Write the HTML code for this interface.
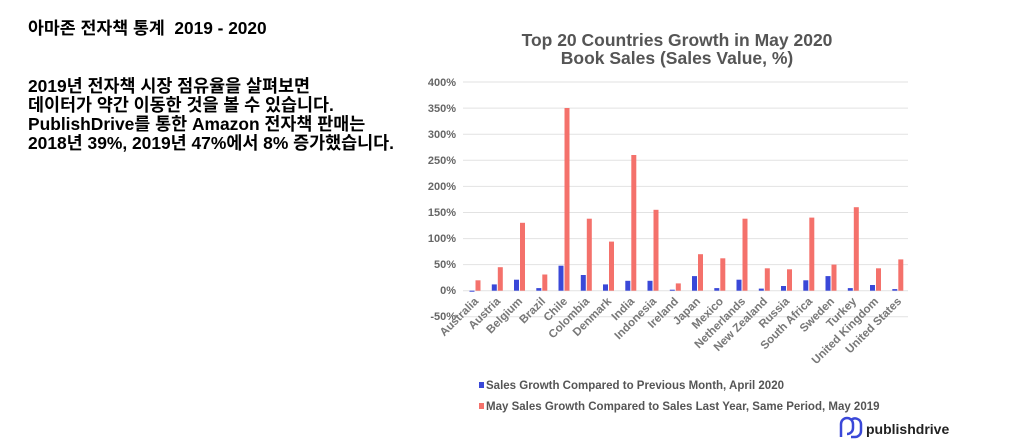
<!DOCTYPE html>
<html><head><meta charset="utf-8"><style>
body{margin:0;background:#fff;width:1024px;height:443px;overflow:hidden;position:relative;font-family:"Liberation Sans","Noto Sans CJK KR",sans-serif}
.t{position:absolute;left:28px;color:#000;font-weight:600;white-space:nowrap}
</style></head><body>
<div class="t" style="top:17px;font-size:17.3px;line-height:22px">아마존 전자책 통계&nbsp; 2019 - 2020</div>
<div class="t" style="top:77px;font-size:17.4px;line-height:19px">2019년 전자책 시장 점유율을 살펴보면<br>데이터가 약간 이동한 것을 볼 수 있습니다.<br>PublishDrive를 통한 Amazon 전자책 판매는<br>2018년 39%, 2019년 47%에서 8% 증가했습니다.</div>
<svg width="1024" height="443" style="position:absolute;left:0;top:0" font-family="Liberation Sans, sans-serif">
<g fill="#555" font-weight="bold" font-size="17.5" text-anchor="middle">
<text x="677" y="46">Top 20 Countries Growth in May 2020</text>
<text x="677" y="64">Book Sales (Sales Value, %)</text>
</g>
<g stroke="#e2e2e2" stroke-width="1">
<line x1="463" x2="908" y1="82" y2="82"/><line x1="463" x2="908" y1="108.1" y2="108.1"/><line x1="463" x2="908" y1="134.2" y2="134.2"/><line x1="463" x2="908" y1="160.3" y2="160.3"/><line x1="463" x2="908" y1="186.4" y2="186.4"/><line x1="463" x2="908" y1="212.5" y2="212.5"/><line x1="463" x2="908" y1="238.6" y2="238.6"/><line x1="463" x2="908" y1="264.6" y2="264.6"/><line x1="463" x2="908" y1="290.7" y2="290.7"/><line x1="463" x2="908" y1="316.8" y2="316.8"/>
</g>
<g fill="#666" font-size="11" font-weight="bold" text-anchor="end">
<text x="456" y="86">400%</text><text x="456" y="112">350%</text><text x="456" y="138">300%</text><text x="456" y="164">250%</text><text x="456" y="190">200%</text><text x="456" y="216">150%</text><text x="456" y="242">100%</text><text x="456" y="268">50%</text><text x="456" y="294">0%</text><text x="456" y="320">-50%</text>
</g>
<g fill="#f4716b">
<rect x="475.5" y="280.3" width="5" height="10.4"/><rect x="497.8" y="267.2" width="5" height="23.5"/><rect x="520" y="222.8" width="5" height="67.9"/><rect x="542.3" y="274.5" width="5" height="16.2"/><rect x="564.5" y="108" width="5" height="182.7"/><rect x="586.8" y="218.7" width="5" height="72"/><rect x="609" y="241.6" width="5" height="49.1"/><rect x="631.3" y="155" width="5" height="135.7"/><rect x="653.5" y="209.8" width="5" height="80.9"/><rect x="675.8" y="283.4" width="5" height="7.3"/><rect x="698" y="254.2" width="5" height="36.5"/><rect x="720.3" y="258.3" width="5" height="32.4"/><rect x="742.5" y="218.7" width="5" height="72"/><rect x="764.8" y="268.3" width="5" height="22.4"/><rect x="787" y="269.3" width="5" height="21.4"/><rect x="809.3" y="217.6" width="5" height="73.1"/><rect x="831.5" y="264.6" width="5" height="26.1"/><rect x="853.8" y="207.2" width="5" height="83.5"/><rect x="876" y="268.3" width="5" height="22.4"/><rect x="898.3" y="259.4" width="5" height="31.3"/>
</g>
<g fill="#3a48d8">
<rect x="469.5" y="290.7" width="5" height="1"/><rect x="491.8" y="284.4" width="5" height="6.3"/><rect x="514" y="279.7" width="5" height="11"/><rect x="536.3" y="288.1" width="5" height="2.6"/><rect x="558.5" y="265.7" width="5" height="25"/><rect x="580.8" y="275" width="5" height="15.7"/><rect x="603" y="284.4" width="5" height="6.3"/><rect x="625.3" y="280.8" width="5" height="9.9"/><rect x="647.5" y="280.8" width="5" height="9.9"/><rect x="669.8" y="289.7" width="5" height="1"/><rect x="692" y="276.1" width="5" height="14.6"/><rect x="714.3" y="288.1" width="5" height="2.6"/><rect x="736.5" y="279.7" width="5" height="11"/><rect x="758.8" y="288.6" width="5" height="2.1"/><rect x="781" y="286" width="5" height="4.7"/><rect x="803.3" y="280.3" width="5" height="10.4"/><rect x="825.5" y="276.1" width="5" height="14.6"/><rect x="847.8" y="288.1" width="5" height="2.6"/><rect x="870" y="285" width="5" height="5.7"/><rect x="892.3" y="289.1" width="5" height="1.6"/>
</g>
<g fill="#777" font-size="11.5" font-weight="bold" text-anchor="end">
<text transform="translate(479,302) rotate(-45)">Australia</text>
<text transform="translate(501,302) rotate(-45)">Austria</text>
<text transform="translate(523,302) rotate(-45)">Belgium</text>
<text transform="translate(546,302) rotate(-45)">Brazil</text>
<text transform="translate(568,302) rotate(-45)">Chile</text>
<text transform="translate(590,302) rotate(-45)">Colombia</text>
<text transform="translate(612,302) rotate(-45)">Denmark</text>
<text transform="translate(635,302) rotate(-45)">India</text>
<text transform="translate(657,302) rotate(-45)">Indonesia</text>
<text transform="translate(679,302) rotate(-45)">Ireland</text>
<text transform="translate(701,302) rotate(-45)">Japan</text>
<text transform="translate(724,302) rotate(-45)">Mexico</text>
<text transform="translate(746,302) rotate(-45)">Netherlands</text>
<text transform="translate(768,302) rotate(-45)">New Zealand</text>
<text transform="translate(790,302) rotate(-45)">Russia</text>
<text transform="translate(813,302) rotate(-45)">South Africa</text>
<text transform="translate(835,302) rotate(-45)">Sweden</text>
<text transform="translate(857,302) rotate(-45)">Turkey</text>
<text transform="translate(879,302) rotate(-45)">United Kingdom</text>
<text transform="translate(902,302) rotate(-45)">United States</text>
</g>
<rect x="479" y="382" width="5" height="6" fill="#3a48d8"/>
<rect x="479" y="403" width="5" height="6" fill="#f4716b"/>
<g fill="#555" font-size="11.5" font-weight="bold">
<text x="486" y="389">Sales Growth Compared to Previous Month, April 2020</text>
<text x="486" y="410">May Sales Growth Compared to Sales Last Year, Same Period, May 2019</text>
</g>
<g fill="none" stroke="#3a48d8" stroke-width="2.5">
<path d="M841 437 V424 a6 6 0 0 1 12 0 v4 a6 6 0 0 1 -6 6"/>
<path d="M851 437 h4 a6 6 0 0 0 6 -6 v-7 a6 6 0 0 0 -10 -4"/>
</g>
<text x="866" y="434" fill="#222" font-size="14" font-weight="bold">publishdrive</text>
</svg>
</body></html>
